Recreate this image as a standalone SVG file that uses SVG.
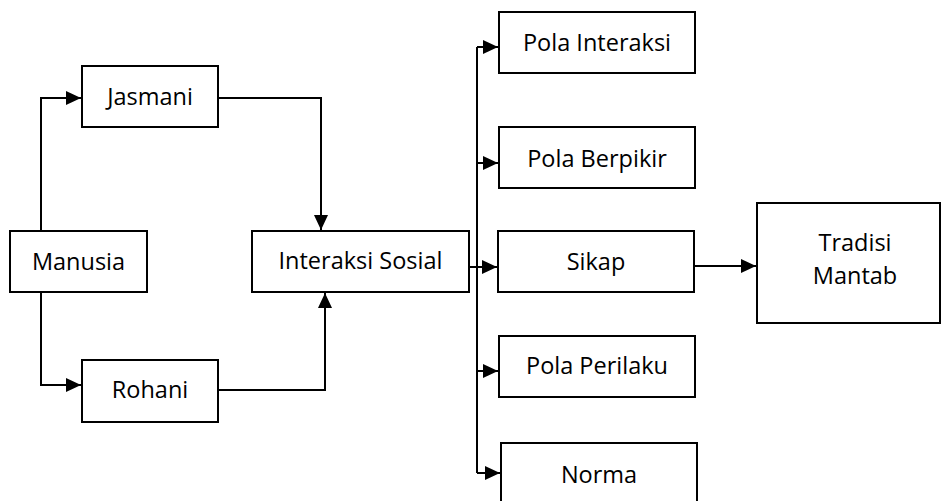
<svg xmlns="http://www.w3.org/2000/svg" width="942" height="501" viewBox="0 0 942 501">
<style>
.box{fill:#fff;stroke:#000;stroke-width:2}
.t{font-family:"Open Sans","Noto Sans",sans-serif;font-size:23.5px;fill:#000;text-anchor:middle}
.c{fill:none;stroke:#000;stroke-width:2}
</style>
<defs>
<marker id="ah" markerUnits="userSpaceOnUse" markerWidth="16" markerHeight="14" refX="15" refY="7" orient="auto">
<path d="M0,0 L15,7 L0,14 z" fill="#000"/>
</marker>
</defs>
<rect width="942" height="501" fill="#fff"/>
<g id="connectors">
<path class="c" d="M41,231 V98 H81" marker-end="url(#ah)"/>
<path class="c" d="M41,292 V385 H81" marker-end="url(#ah)"/>
<path class="c" d="M218,98 H321 V230" marker-end="url(#ah)"/>
<path class="c" d="M218,390 H325 V293" marker-end="url(#ah)"/>
<path class="c" d="M477,47 V473"/>
<path class="c" d="M469,267 H497" marker-end="url(#ah)"/>
<path class="c" d="M477,47 H498" marker-end="url(#ah)"/>
<path class="c" d="M477,163 H498" marker-end="url(#ah)"/>
<path class="c" d="M477,371 H498" marker-end="url(#ah)"/>
<path class="c" d="M477,473 H500" marker-end="url(#ah)"/>
<path class="c" d="M695,266 H756" marker-end="url(#ah)"/>
</g>
<g id="manusia"><rect class="box" x="10" y="231" width="137" height="61"/><text class="t" x="78.5" y="269.5">Manusia</text></g>
<g id="jasmani"><rect class="box" x="82" y="66" width="136" height="61"/><text class="t" x="150" y="104.5">Jasmani</text></g>
<g id="rohani"><rect class="box" x="82" y="360" width="136" height="62"/><text class="t" x="150" y="397.5">Rohani</text></g>
<g id="interaksi-sosial"><rect class="box" x="252" y="231" width="217" height="61"/><text class="t" x="360.5" y="268.5">Interaksi Sosial</text></g>
<g id="pola-interaksi"><rect class="box" x="499" y="12" width="196" height="61"/><text class="t" x="597" y="50.5">Pola Interaksi</text></g>
<g id="pola-berpikir"><rect class="box" x="499" y="127" width="196" height="61"/><text class="t" x="597" y="166.5">Pola Berpikir</text></g>
<g id="sikap"><rect class="box" x="498" y="231" width="196" height="61"/><text class="t" x="596" y="269.5">Sikap</text></g>
<g id="pola-perilaku"><rect class="box" x="499" y="336" width="196" height="61"/><text class="t" x="597" y="373.5">Pola Perilaku</text></g>
<g id="norma"><rect class="box" x="501" y="443" width="196" height="70"/><text class="t" x="599" y="482.5">Norma</text></g>
<g id="tradisi-mantab"><rect class="box" x="757" y="203" width="183" height="120"/><text class="t" x="855" y="250.5">Tradisi</text><text class="t" x="855" y="283.5">Mantab</text></g>
</svg>
